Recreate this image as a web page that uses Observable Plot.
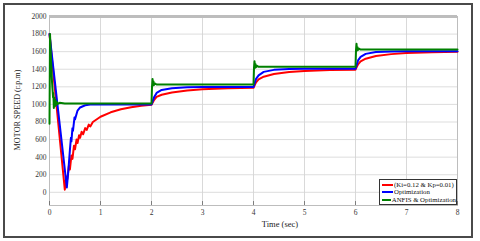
<!DOCTYPE html>
<html><head><meta charset="utf-8">
<script src="https://cdn.jsdelivr.net/npm/d3@7"></script>
<script src="https://cdn.jsdelivr.net/npm/@observablehq/plot@0.6"></script>
<style>
html,body{margin:0;padding:0;background:#fff;}
#wrap{position:relative;width:480px;height:241px;font-family:"Liberation Serif","Times New Roman",serif;}
#wrap svg{position:absolute;left:0;top:0;}
.frame{position:absolute;left:3px;top:3px;width:470px;height:235px;box-sizing:border-box;border:2px solid #4a4a4a;pointer-events:none;}
.ylab{position:absolute;left:17px;top:110px;transform:translate(-50%,-50%) rotate(-90deg);font-size:8.2px;white-space:nowrap;color:#222;}
.xlab{position:absolute;left:280px;top:224px;transform:translate(-50%,-50%);font-size:8.5px;white-space:nowrap;color:#222;}
.legend{position:absolute;left:379px;top:179px;width:78px;height:26px;box-sizing:border-box;border:1px solid #333;background:#fff;font-size:6.8px;line-height:7.4px;padding:1px 0 0 2px;color:#111;}
.legend div{display:flex;align-items:center;white-space:nowrap;}
.legend span.sw{display:inline-block;width:11px;height:2px;margin-right:1px;}
</style>
</head><body>
<div id="wrap"></div>
<script>
// Series: [time (sec), speed (r.p.m)]
const seriesNames = ["(Ki=0.12  & Kp=0.01)", "Optimization", "ANFIS & Optimization"];
const seriesColors = ["#ff0000", "#0000ff", "#008000"];

const pidData = [
  [0,1800],[0.30,30],[0.33,180],[0.35,150],[0.38,300],[0.40,260],[0.43,420],[0.45,380],
  [0.48,530],[0.50,490],[0.53,600],[0.55,560],[0.58,650],[0.60,620],[0.63,690],[0.66,660],
  [0.70,730],[0.73,710],[0.77,770],[0.80,750],[0.85,800],[0.9,820],[1.0,860],[1.2,910],
  [1.4,945],[1.6,968],[1.8,985],[2.0,995],
  [2.05,1050],[2.1,1085],[2.2,1110],[2.4,1135],[2.7,1158],[3.0,1172],[3.5,1184],[4.0,1190],
  [4.05,1250],[4.1,1285],[4.2,1315],[4.4,1345],[4.7,1368],[5.0,1380],[5.5,1390],[6.0,1395],
  [6.05,1455],[6.1,1490],[6.2,1520],[6.4,1550],[6.7,1572],[7.0,1585],[7.5,1594],[8.0,1598]
];
const optData = [
  [0,1800],[0.34,55],[0.37,250],[0.40,480],[0.42,620],[0.43,580],[0.45,730],[0.46,700],
  [0.49,850],[0.50,830],[0.55,930],[0.60,965],[0.70,990],[0.80,998],[1.2,1000],[2.0,1000],
  [2.05,1080],[2.1,1130],[2.2,1165],[2.4,1185],[2.7,1194],[3.0,1197],[4.0,1198],
  [4.05,1290],[4.1,1330],[4.2,1370],[4.4,1393],[4.7,1402],[5.0,1405],[6.0,1406],
  [6.05,1500],[6.1,1540],[6.2,1575],[6.4,1596],[6.7,1603],[7.0,1605],[8.0,1606]
];
const anfisData = [
  [0,780],[0.01,1800],[0.03,1500],[0.05,1250],[0.07,1080],[0.075,1130],[0.085,960],
  [0.095,1080],[0.105,980],[0.115,1050],[0.125,990],[0.14,1030],[0.16,1005],[0.2,1018],
  [0.3,1010],[1.0,1010],[2.0,1010],
  [2.01,1200],[2.02,1290],[2.03,1215],[2.04,1260],[2.05,1222],[2.07,1238],[2.1,1226],[4.0,1226],
  [4.01,1420],[4.02,1490],[4.03,1415],[4.04,1458],[4.05,1423],[4.07,1438],[4.1,1427],[6.0,1427],
  [6.01,1620],[6.02,1690],[6.03,1612],[6.04,1650],[6.05,1620],[6.07,1634],[6.1,1624],[8.0,1624]
];
const xTicks = [0,1,2,3,4,5,6,7,8];
const yTicks = [0,200,400,600,800,1000,1200,1400,1600,1800,2000];

const allSeries = [pidData, optData, anfisData];
const rows = allSeries.flatMap((arr, i) => arr.map(([t, v]) => ({t, v, s: seriesNames[i]})));

const plot = Plot.plot({
  width: 480, height: 241,
  marginLeft: 49, marginRight: 23, marginTop: 16, marginBottom: 36,
  style: {fontFamily: "'Liberation Serif','Times New Roman',serif", fontSize: "7.5px", background: "transparent", color: "#333"},
  x: {domain: [0, 8], label: null},
  y: {domain: [-150, 2000], label: null},
  color: {domain: seriesNames, range: seriesColors},
  marks: [
    Plot.gridX(xTicks, {stroke: "#cfcfcf", strokeOpacity: 1, strokeWidth: 0.8}),
    Plot.gridY(yTicks, {stroke: "#d4d4d4", strokeOpacity: 1, strokeWidth: 0.8}),
    Plot.frame({stroke: "#bdbdbd", strokeWidth: 1}),
    Plot.ruleY([2000], {stroke: "#bdbdbd", strokeWidth: 3}),
    Plot.axisX(xTicks, {tickSize: 0, tickPadding: 4, tickFormat: d => String(d), label: null}),
    Plot.axisY(yTicks, {tickSize: 0, tickPadding: 3, tickFormat: d => String(d), label: null}),
    Plot.ruleX(xTicks, {x: d => d, y1: -150, y2: -105, stroke: "#666", strokeWidth: 0.8}),
    Plot.line(rows, {x: "t", y: "v", z: "s", stroke: "s", strokeWidth: 2, curve: "linear"})
  ]
});
const wrap = document.getElementById("wrap");
wrap.appendChild(plot);

const ylab = document.createElement("div"); ylab.className = "ylab"; ylab.textContent = "MOTOR SPEED (r.p.m)"; wrap.appendChild(ylab);
const xlab = document.createElement("div"); xlab.className = "xlab"; xlab.textContent = "Time (sec)"; wrap.appendChild(xlab);
const leg = document.createElement("div"); leg.className = "legend";
seriesNames.forEach((n, i) => {
  const r = document.createElement("div");
  const sw = document.createElement("span"); sw.className = "sw"; sw.style.background = seriesColors[i];
  r.appendChild(sw); r.appendChild(document.createTextNode(n)); leg.appendChild(r);
});
wrap.appendChild(leg);
const fr = document.createElement("div"); fr.className = "frame"; wrap.appendChild(fr);
</script>
</body></html>
